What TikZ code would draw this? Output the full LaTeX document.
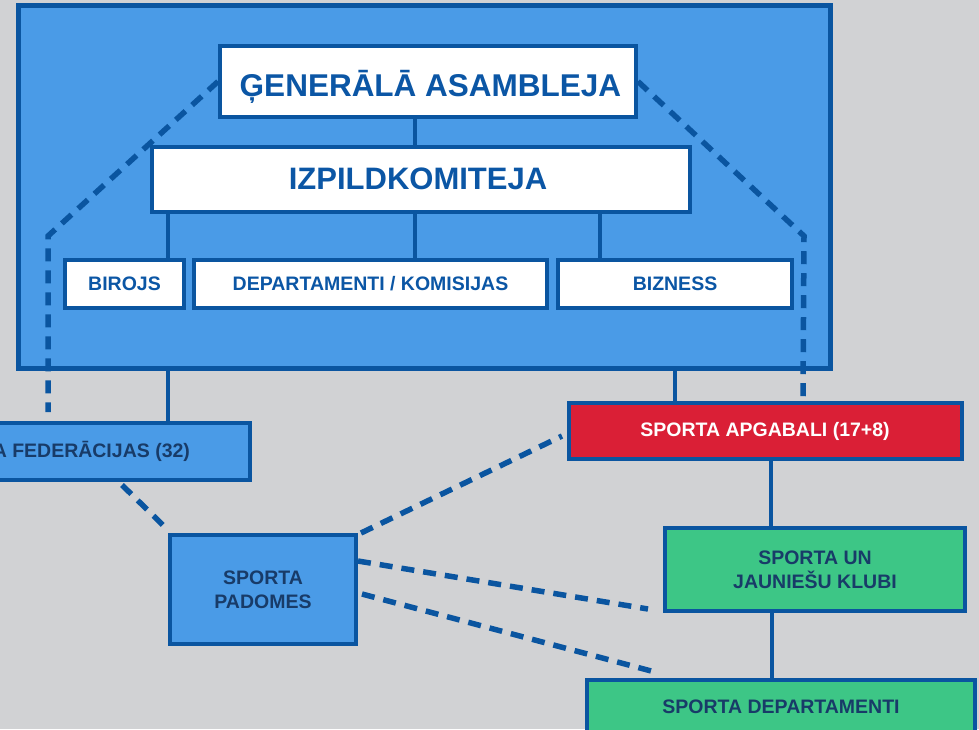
\documentclass[tikz,border=0pt]{standalone}
\usepackage{fontspec}
\setmainfont{Liberation Sans}
\definecolor{bg}{HTML}{D1D2D4}
\definecolor{lblue}{HTML}{4A9BE7}
\definecolor{dblue}{HTML}{0A55A0}
\definecolor{rred}{HTML}{DA1F36}
\definecolor{ggreen}{HTML}{3DC686}
\definecolor{navy}{HTML}{183B68}
\definecolor{tblue}{HTML}{0B56A5}
\tikzset{
  box/.style={draw=dblue, line width=4pt, inner sep=0pt, align=center, font=\bfseries\fontsize{19.5}{24}\selectfont},
  wbox/.style={box, fill=white, text=tblue},
  bbox/.style={box, fill=lblue, text=navy},
  gbox/.style={box, fill=ggreen, text=navy},
  rbox/.style={box, fill=rred, text=white},
  conn/.style={draw=dblue, line width=4.5pt},
  dconn/.style={draw=dblue, line width=5.5pt, dash pattern=on 13pt off 9pt},
}
\begin{document}
\begin{tikzpicture}[x=1pt,y=-1pt]
\useasboundingbox (0,0) rectangle (979,729);
\clip (0,0) rectangle (979,729);
\fill[bg] (0,0) rectangle (979,729);
% outer container
\node[draw=dblue, fill=lblue, line width=5pt, minimum width=812pt, minimum height=363pt, inner sep=0pt] (outer) at (424.5,187) {};
% dashed links inside
\coordinate (lc) at (48,236);
\coordinate (le) at (48,412);
\coordinate (rc) at (804,236);
\coordinate (re) at (803,397);
% nodes
\node[wbox, minimum width=416pt, minimum height=71pt, text height=29pt, text depth=0pt, font=\bfseries\fontsize{31.5}{36}\selectfont] (ga) at (428,81.5) {\hspace*{5pt}ĢENERĀLĀ ASAMBLEJA};
\node[wbox, minimum width=538pt, minimum height=65pt, text height=22.2pt, text depth=3pt, font=\bfseries\fontsize{31}{36}\selectfont] (iz) at (421,179.5) {\hspace*{-6pt}IZPILDKOMITEJA};
\draw[dconn] (ga.west) -- (lc) -- (le);
\draw[dconn] (ga.east) -- (rc) -- (re);
\node[wbox, minimum width=119pt, minimum height=48pt] (biro) at (124.5,284) {BIROJS};
\node[wbox, minimum width=353pt, minimum height=48pt] (dep) at (370.5,284) {DEPARTAMENTI / KOMISIJAS};
\node[wbox, minimum width=234pt, minimum height=48pt] (biz) at (675,284) {BIZNESS};
\node[bbox, minimum width=383pt, minimum height=57pt] (fed) at (58.5,451.5) {SPORTA FEDERĀCIJAS (32)};
\node[rbox, minimum width=393pt, minimum height=56pt] (apg) at (765,431) {SPORTA APGABALI (17+8)};
\node[gbox, minimum width=300pt, minimum height=83pt] (klub) at (815,569.5) {SPORTA UN\\JAUNIEŠU KLUBI};
\node[gbox, minimum width=388pt, minimum height=54pt] (sdep) at (781,707) {SPORTA DEPARTAMENTI};
\node[bbox, minimum width=186pt, minimum height=109pt] (pad) at (263,589.5) {SPORTA\\PADOMES};
% solid connectors
\draw[conn] ([xshift=-13pt]ga.south) -- ([xshift=-13pt]ga.south |- iz.north);
\draw[conn] (iz.south -| 168,0) -- (biro.north -| 168,0);
\draw[conn] (iz.south -| 415,0) -- (dep.north -| 415,0);
\draw[conn] (iz.south -| 600,0) -- (biz.north -| 600,0);
\draw[conn] (outer.south -| 168,0) -- (fed.north -| 168,0);
\draw[conn] (outer.south -| 675,0) -- (apg.north -| 675,0);
\draw[conn] (apg.south -| 771,0) -- (klub.north -| 771,0);
\draw[conn] (klub.south -| 772,0) -- (sdep.north -| 772,0);
% dashed connectors
\coordinate (fp) at (122,485);
\coordinate (ap) at (562,436);
\coordinate (kp) at (648,609);
\coordinate (sp) at (655,672);
\draw[dconn] (fp) -- ([xshift=1pt,yshift=2pt]pad.north west);
\draw[dconn] ([xshift=3pt]pad.north east) -- (ap);
\draw[dconn] (pad.east |- 0,561) -- (kp);
\draw[dconn] ([xshift=4pt]pad.east |- 0,594) -- (sp);
\end{tikzpicture}
\end{document}
